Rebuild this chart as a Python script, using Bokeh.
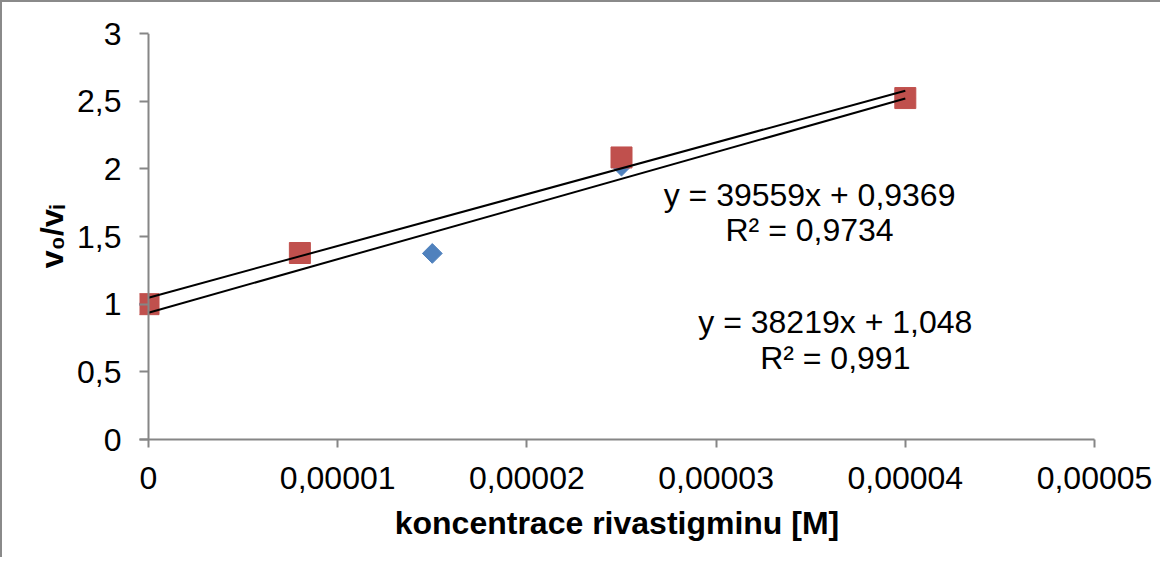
import math
from bokeh.plotting import figure
from bokeh.models import Range1d, FixedTicker, Label, Span
from bokeh.embed import file_html
from bokeh.resources import INLINE

# ---- data ----
blue_x = [0.0, 0.000015, 0.000025, 0.00004]
blue_y = [1.0, 1.375, 2.02, 2.523]
red_x = [0.0, 0.000008, 0.000025, 0.00004]
red_y = [1.0, 1.378, 2.084, 2.523]

# trendlines (from the chart's equations)
trend_slopes = [39559, 38219]
trend_intercepts = [0.9369, 1.048]
trend_x_end = 0.00004
eq_texts = ["y = 39559x + 0,9369", "y = 38219x + 1,048"]
r2_texts = ["R² = 0,9734", "R² = 0,991"]

x_ticks = [0, 0.00001, 0.00002, 0.00003, 0.00004, 0.00005]
x_tick_labels = ["0", "0,00001", "0,00002", "0,00003", "0,00004", "0,00005"]
y_ticks = [0, 0.5, 1, 1.5, 2, 2.5, 3]
y_tick_labels = ["0", "0,5", "1", "1,5", "2", "2,5", "3"]

FONT = "Liberation Sans"
AX = "#868686"

# small left pad (= tick length) so the marker at x=0 is not clipped
x_end = 0.00005
PADPX = 9
pad = PADPX / 946 * x_end

p = figure(width=1160, height=557, output_backend="svg", toolbar_location=None,
           x_range=Range1d(-pad, x_end), y_range=Range1d(0, 3),
           min_border_left=146 - PADPX, min_border_right=68, min_border_top=31, min_border_bottom=120)
p.styles = {"border-left": "2px solid #8a8a8a", "border-top": "2px solid #8a8a8a"}
p.outline_line_color = None
p.xgrid.visible = False
p.ygrid.visible = False

for ax in (p.xaxis[0], p.yaxis[0]):
    ax.axis_line_color = AX
    ax.axis_line_width = 2
    ax.major_tick_line_color = AX
    ax.major_tick_line_width = 2
    ax.major_tick_out = 8
    ax.major_tick_in = 0
    ax.minor_tick_line_color = None
    ax.major_label_text_font = FONT
    ax.major_label_text_font_size = "32px"
    ax.major_label_text_color = "black"
    ax.axis_label_text_font = FONT
    ax.axis_label_text_font_size = "32px"
    ax.axis_label_text_font_style = "bold"
    ax.axis_label_text_color = "black"

p.xaxis[0].ticker = FixedTicker(ticks=x_ticks)
p.xaxis[0].major_label_overrides = {t: l for t, l in zip(x_ticks, x_tick_labels)}
p.xaxis[0].major_label_standoff = 19
p.xaxis[0].axis_label = "koncentrace rivastigminu [M]"
p.xaxis[0].axis_label_standoff = 13

# y axis: ticks drawn inward up to x = 0, axis line drawn as a span at x = 0
p.yaxis[0].axis_line_color = None
p.yaxis[0].major_tick_out = 0
p.yaxis[0].major_tick_in = PADPX
p.yaxis[0].ticker = FixedTicker(ticks=y_ticks)
p.yaxis[0].major_label_overrides = {t: l for t, l in zip(y_ticks, y_tick_labels)}
p.yaxis[0].major_label_standoff = 18
p.yaxis[0].axis_label = "v₀/vᵢ"
p.yaxis[0].axis_label_standoff = 4
p.add_layout(Span(location=0, dimension="height", line_color=AX, line_width=2))

# points
p.scatter(blue_x, blue_y, marker="square", angle=math.pi / 4, size=14,
          fill_color="#4F81BD", line_color="#4F81BD")
p.scatter(red_x, red_y, marker="square", size=21,
          fill_color="#C0504D", line_color="#C0504D")

# trendlines
for m, b in zip(trend_slopes, trend_intercepts):
    p.line([0, trend_x_end], [b, m * trend_x_end + b], line_color="black", line_width=2)

# equation labels
label_pos = [(0.00003494, 1.81, 1.55), (0.0000363, 0.865, 0.60)]
for (lx, ly1, ly2), eq, r2 in zip(label_pos, eq_texts, r2_texts):
    for ly, t in ((ly1, eq), (ly2, r2)):
        p.add_layout(Label(x=lx, y=ly, text=t, text_align="center", text_baseline="middle",
                           text_font=FONT, text_font_size="32px", text_color="black"))

open("out.html", "w").write(file_html(p, INLINE))
